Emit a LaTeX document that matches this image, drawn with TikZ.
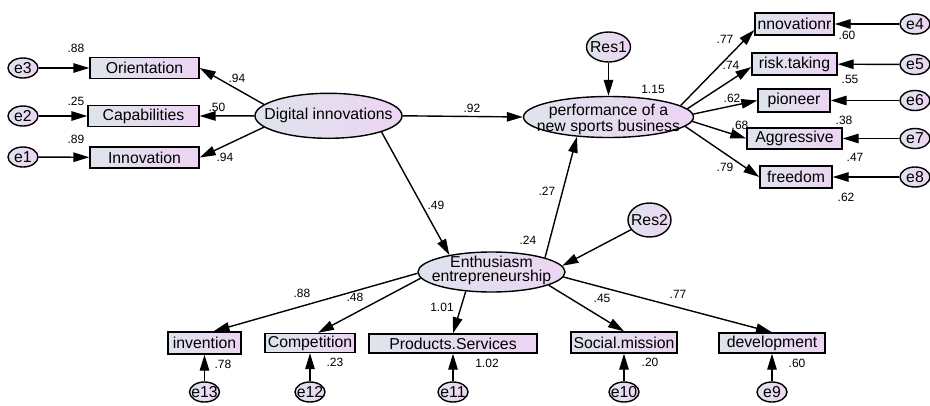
\documentclass[tikz,border=0pt]{standalone}
\usepackage{fontspec}
\setmainfont{Liberation Sans}
\usetikzlibrary{arrows.meta,shapes.geometric}
\definecolor{cL}{RGB}{222,228,236}
\definecolor{cR}{RGB}{237,212,243}
\newcommand\nodefnt{\fontsize{15.8}{14}\selectfont}
\newcommand\coeffnt{\fontsize{12}{13}\selectfont}
\begin{document}
\begin{tikzpicture}[x=1pt,y=-1pt,
  obs/.style={rectangle, draw=black, line width=1.4pt, left color=cL, right color=cR, inner sep=0pt, minimum height=21pt, font=\nodefnt},
  lat/.style={ellipse, draw=black, line width=1.4pt, left color=cL, right color=cR, inner sep=0pt},
  err/.style={ellipse, draw=black, line width=1.4pt, left color=cL, right color=cR, inner sep=0pt, minimum width=30pt, minimum height=20pt, font=\nodefnt},
  txt/.style={inner sep=0pt, font=\nodefnt, align=center},
  coef/.style={inner sep=0pt, font=\coeffnt},
  arr/.style={draw=black, line width=1.4pt, -{Triangle[length=16pt,width=9.5pt]}}]
\useasboundingbox (0,0) rectangle (930,405);
\fill[white] (0,0) rectangle (930,405);

% left measurement model
\node[err] (e3) at (23,68) {\makebox[0pt]{e3}};
\node[err] (e2) at (23,116) {\makebox[0pt]{e2}};
\node[err] (e1) at (23,157) {\makebox[0pt]{e1}};
\node[obs, minimum width=109pt] (ori) at (144.5,68) {Orientation};
\node[obs, minimum width=111pt] (cap) at (143.5,116) {Capabilities};
\node[obs, minimum width=109pt] (inn) at (144.5,157.5) {Innovation};

\node[lat, minimum width=147pt, minimum height=45pt] (dig) at (328.5,115.8) {};
\node[txt] (digt) at (dig) {Digital innovations};

% performance
\node[lat, minimum width=170pt, minimum height=41pt] (perf) at (608.5,117) {};
\node[txt] (perft) at (608.5,119.5) {performance of a\\new sports business};
\node[err, minimum width=44pt, minimum height=30pt] (res1) at (608.5,47) {\makebox[0pt]{Res1}};

\node[obs, minimum width=79pt, minimum height=22pt] (nno) at (794.5,24) {nnovationr};
\node[obs, minimum width=85pt, minimum height=22pt] (risk) at (794.5,64) {risk.taking};
\node[obs, minimum width=72pt, minimum height=23pt] (pio) at (794,100.5) {pioneer};
\node[obs, minimum width=95pt, minimum height=21pt] (agg) at (794.5,138.5) {Aggressive};
\node[obs, minimum width=72pt, minimum height=22pt] (fre) at (796,177) {freedom};
\node[err] (e4) at (915,24) {\makebox[0pt]{e4}};
\node[err] (e5) at (915,64.5) {\makebox[0pt]{e5}};
\node[err] (e6) at (915,100.5) {\makebox[0pt]{e6}};
\node[err] (e7) at (915,138.5) {\makebox[0pt]{e7}};
\node[err] (e8) at (915,177) {\makebox[0pt]{e8}};

% enthusiasm
\node[lat, minimum width=147pt, minimum height=40pt] (en) at (491.5,272) {};
\node[txt] (ent) at (491.5,270.5) {Enthusiasm\\entrepreneurship};
\node[err, minimum width=43pt, minimum height=34pt] (res2) at (649.5,220) {\makebox[0pt]{Res2}};

\node[obs, minimum width=73pt, minimum height=22pt] (inv) at (204.5,343) {invention};
\node[obs, minimum width=90pt, minimum height=19pt] (comp) at (310,343) {Competition};
\node[obs, minimum width=168pt, minimum height=19pt] (prod) at (453,343.5) {Products.Services};
\node[obs, minimum width=106pt, minimum height=21pt] (soc) at (624,342.5) {Social.mission};
\node[obs, minimum width=106pt, minimum height=20pt] (dev) at (772,343) {development};
\node[err] (e13) at (204.5,392) {\makebox[0pt]{e13}};
\node[err] (e12) at (310,392) {\makebox[0pt]{e12}};
\node[err] (e11) at (453,392) {\makebox[0pt]{e11}};
\node[err] (e10) at (624,392) {\makebox[0pt]{e10}};
\node[err] (e9) at (772,392) {\makebox[0pt]{e9}};

% connectors
\draw[arr] (e3) -- (ori);
\draw[arr] (e2) -- (cap);
\draw[arr] (e1) -- (inn);
\draw[arr] (dig.170) -- (ori.east);
\draw[arr] (dig.west) -- (cap.east);
\draw[arr] (dig.190) -- (inn.east);
\draw[arr] (dig.east) -- (perf.west);
\draw[arr] (dig.-17) -- (en.158);
\draw[arr] (en.15) -- (perf.212);
\draw[arr] (res1) -- (perf.north);
\draw[arr] (res2) -- (en.5);
\draw[arr] (perf.9) -- ([yshift=-6pt]nno.west);
\draw[arr] (perf.6) -- ([yshift=-3pt]risk.west);
\draw[arr] (perf.2) -- (pio.west);
\draw[arr] (perf.-3) -- (agg.west);
\draw[arr] (perf.-7) -- (fre.west);
\draw[arr] (e4) -- (nno);
\draw[arr] (e5) -- (risk);
\draw[arr] (e6) -- (pio);
\draw[arr] (e7) -- (agg);
\draw[arr] (e8) -- (fre);
\draw[arr] (en.181) -- ([xshift=9pt]inv.north);
\draw[arr] (en.185) -- ([xshift=8pt]comp.north);
\draw[arr] (en.217) -- (prod.north);
\draw[arr] (en.-13) -- (soc.north);
\draw[arr] (en.-4) -- (dev.north);
\draw[arr] (e13) -- (inv);
\draw[arr] (e12) -- (comp);
\draw[arr] (e11) -- (prod);
\draw[arr] (e10) -- (soc);
\draw[arr] (e9) -- (dev);

% coefficients
\node[coef] (c1) at (76,48) {.88};
\node[coef] (c2) at (76,101) {.25};
\node[coef] (c3) at (76,139) {.89};
\node[coef] (c4) at (237,78) {.94};
\node[coef] (c5) at (217,107) {.50};
\node[coef] (c6) at (225,157) {.94};
\node[coef] (c7) at (472,108) {.92};
\node[coef] (c8) at (653,89) {1.15};
\node[coef] (c9) at (725,39) {.77};
\node[coef] (c10) at (847,35) {.60};
\node[coef] (c11) at (731,65) {.74};
\node[coef] (c12) at (850,79) {.55};
\node[coef] (c13) at (732,98) {.62};
\node[coef] (c14) at (844,120) {.38};
\node[coef] (c15) at (740,125) {.68};
\node[coef] (c16) at (855,157) {.47};
\node[coef] (c17) at (725,167) {.79};
\node[coef] (c18) at (846,197) {.62};
\node[coef] (c19) at (436,205) {.49};
\node[coef] (c20) at (528,240) {.24};
\node[coef] (c21) at (547,191) {.27};
\node[coef] (c22) at (302,293) {.88};
\node[coef] (c23) at (355,297) {.48};
\node[coef] (c24) at (442,307) {1.01};
\node[coef] (c25) at (602,298) {.45};
\node[coef] (c26) at (678,294) {.77};
\node[coef] (c27) at (223,364) {.78};
\node[coef] (c28) at (335,362) {.23};
\node[coef] (c29) at (487,363) {1.02};
\node[coef] (c30) at (650,362) {.20};
\node[coef] (c31) at (797,363) {.60};
\end{tikzpicture}
\end{document}
